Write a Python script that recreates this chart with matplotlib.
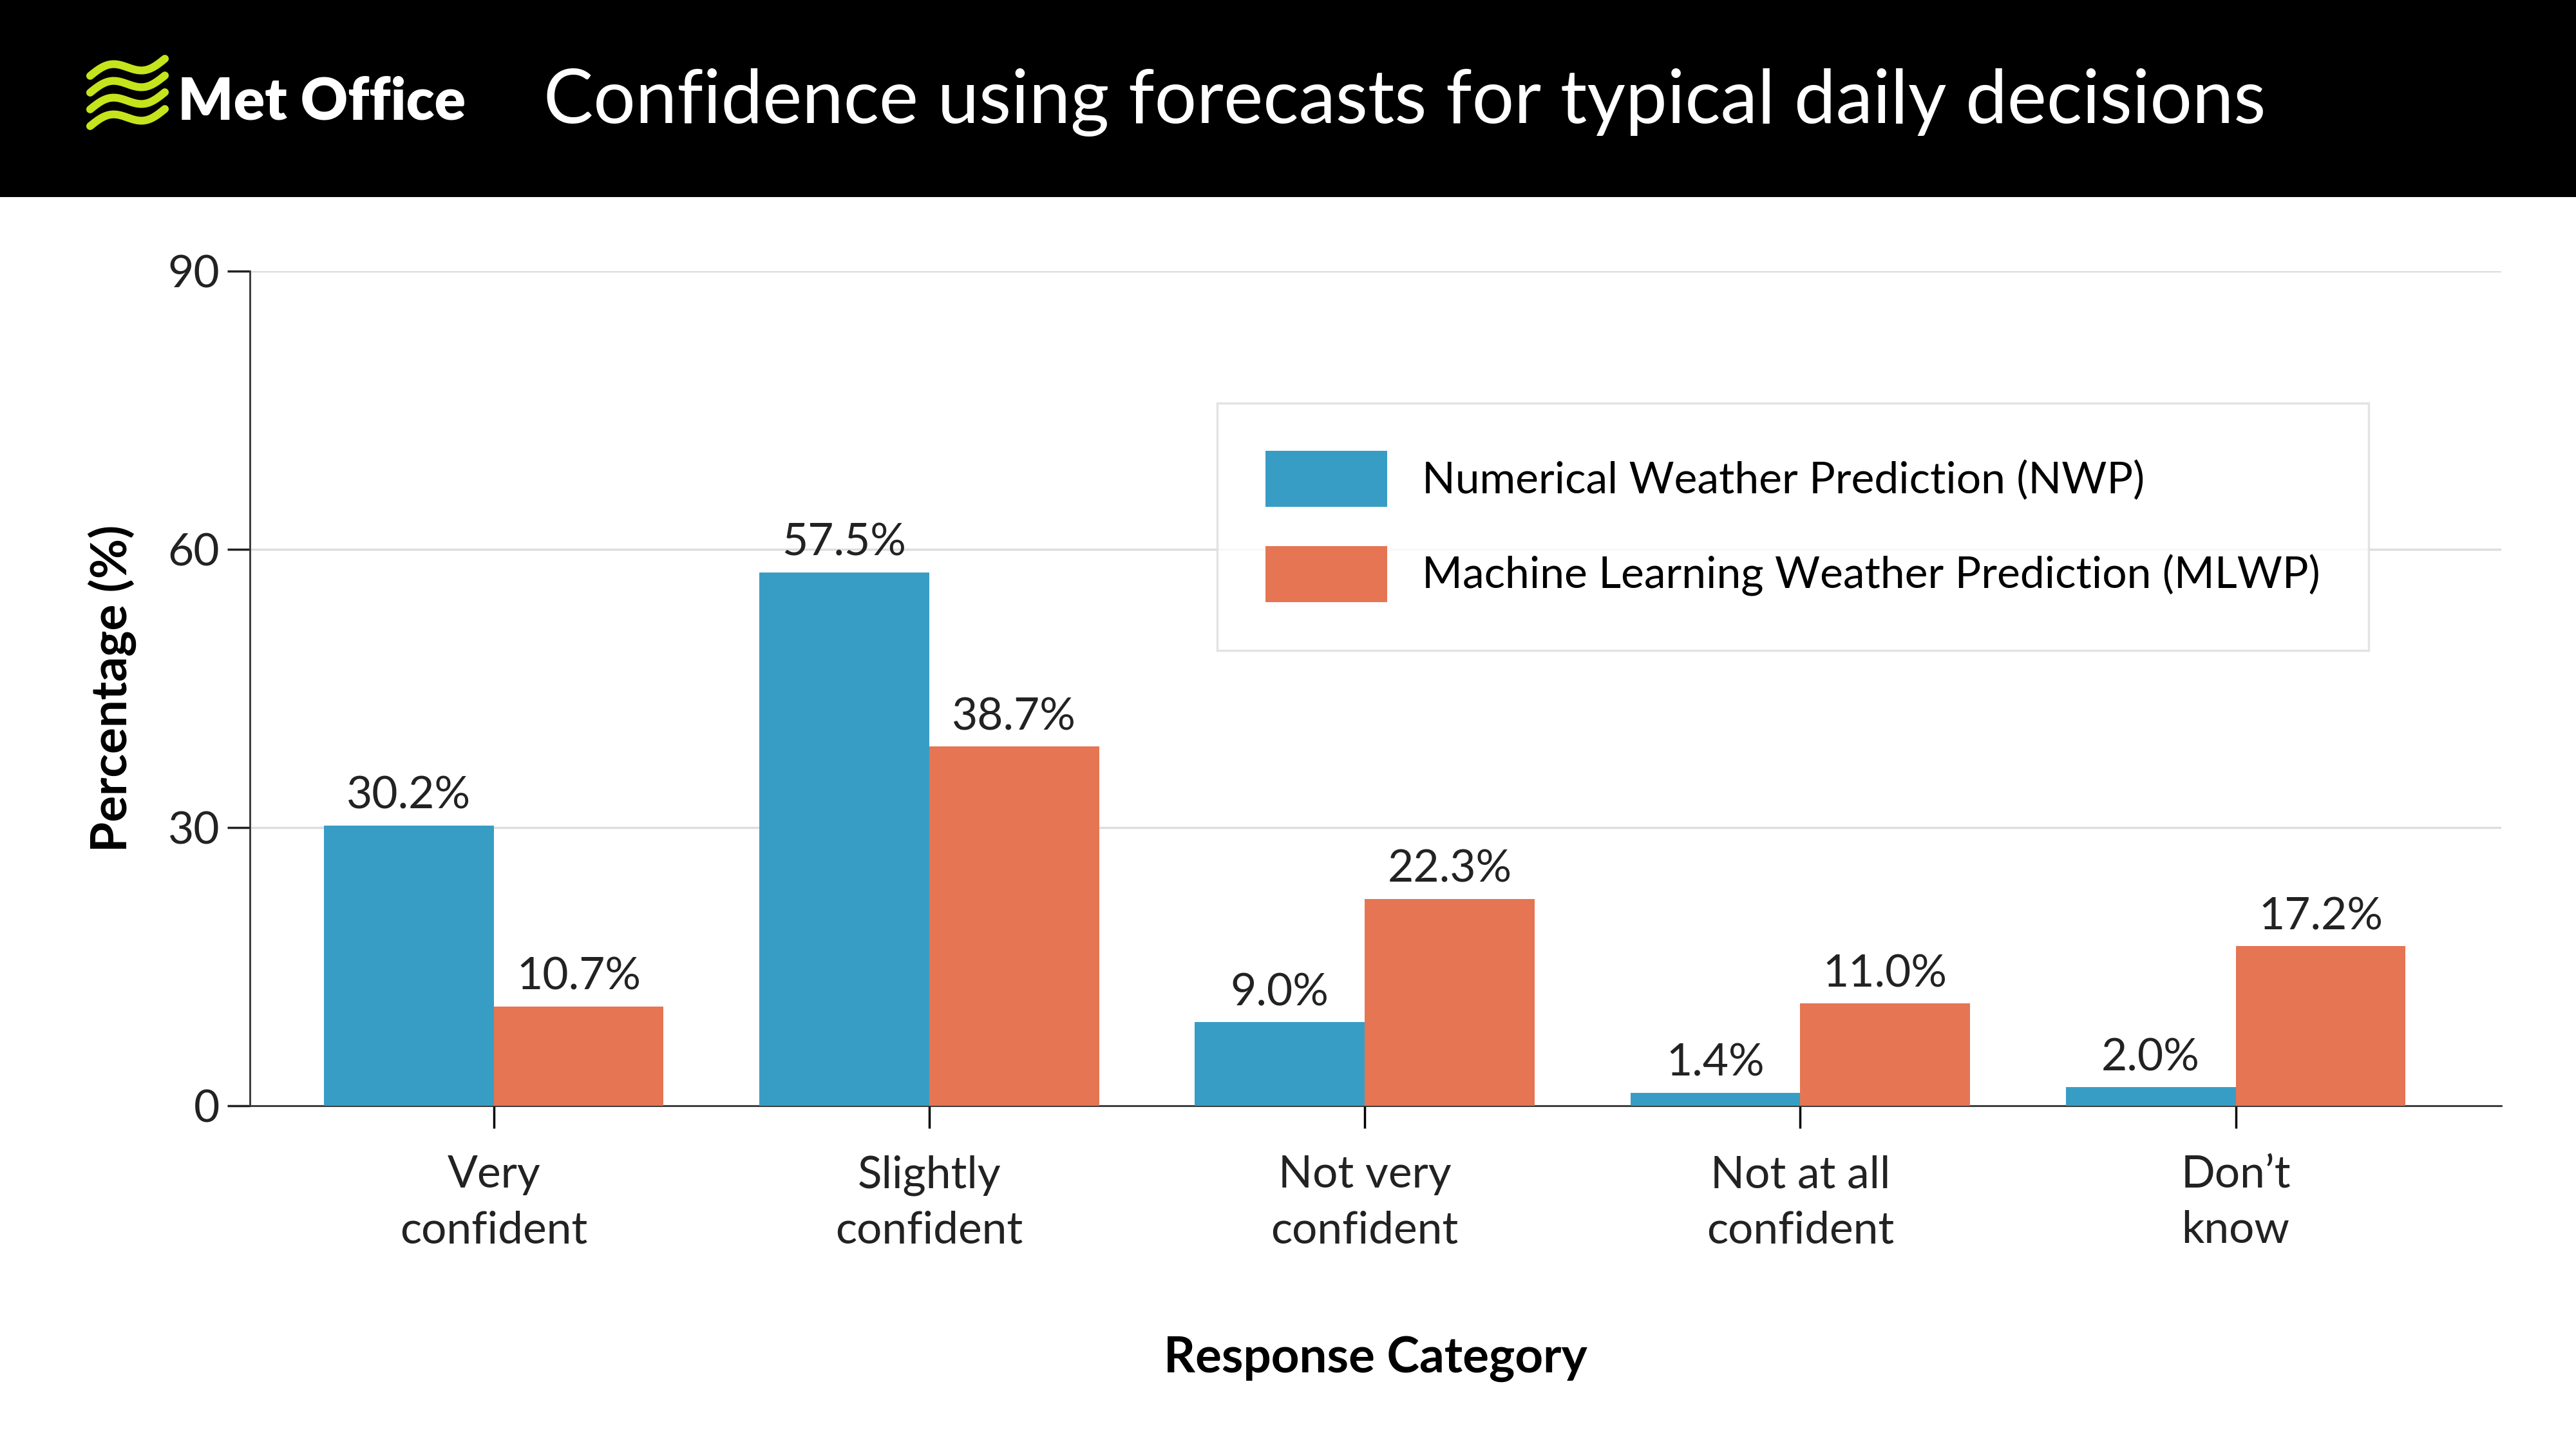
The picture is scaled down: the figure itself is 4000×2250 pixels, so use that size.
import matplotlib.pyplot as plt
import numpy as np

categories = ["Very\nconfident", "Slightly\nconfident", "Not very\nconfident", "Not at all\nconfident", "Don\u2019t\nknow"]
nwp = [30.2, 57.5, 9.0, 1.4, 2.0]
mlwp = [10.7, 38.7, 22.3, 11.0, 17.2]
series_names = ["Numerical Weather Prediction (NWP)", "Machine Learning Weather Prediction (MLWP)"]

BLUE = "#389dc4"
ORANGE = "#e57553"
plt.rcParams['font.family'] = ['Lato', 'DejaVu Sans']

fig = plt.figure(figsize=(16, 9), dpi=250)

# black header band
hdr = fig.add_axes([0, 0.864, 1, 0.136])
hdr.set_facecolor("black")
hdr.set_xlim(0, 1)
hdr.set_ylim(0, 1)
hdr.set_xticks([])
hdr.set_yticks([])
for s in hdr.spines.values():
    s.set_visible(False)
# wavy logo icon
t = np.linspace(0.035, 0.064, 60)
for k in range(4):
    yy = 0.36 + k * 0.085 + 0.035 * np.sin((t - 0.035) / 0.029 * 2 * np.pi) + (t - 0.035) * 3
    hdr.plot(t, yy, color="#c6e41b", lw=3.5, solid_capstyle="round")
hdr.text(0.069, 0.48, "Met Office", color="white", fontsize=26, fontweight="heavy",
         va="center", ha="left")
hdr.text(0.211, 0.48, "Confidence using forecasts for typical daily decisions", color="white",
         fontsize=33.3, va="center", ha="left")

ax = fig.add_axes([0.097, 0.237, 0.874, 0.576])
x = np.arange(len(categories))
w = 0.39
b1 = ax.bar(x - w / 2, nwp, w, color=BLUE, label=series_names[0], zorder=3)
b2 = ax.bar(x + w / 2, mlwp, w, color=ORANGE, label=series_names[1], zorder=3)
for bars in (b1, b2):
    ax.bar_label(bars, labels=[f"{v:.1f}%" for v in bars.datavalues], padding=4,
                 fontsize=20, color="#222222")

ax.set_xlim(-0.56, 4.61)
ax.set_ylim(0, 90)
ax.set_yticks([0, 30, 60, 90])
ax.grid(axis="y", color="#dddddd", lw=1, zorder=0)
ax.set_xticks(x)
ax.set_xticklabels(categories, fontsize=20, color="#222222", linespacing=1.45)
ax.tick_params(axis="y", labelsize=20, colors="#222222", length=10, width=1)
ax.tick_params(axis="x", length=10, width=1, pad=12)
for s in ["top", "right"]:
    ax.spines[s].set_visible(False)
ax.spines["left"].set_color("#333333")
ax.spines["bottom"].set_color("#333333")
ax.set_ylabel("Percentage (%)", fontsize=22, fontweight="bold", labelpad=14)
ax.set_xlabel("Response Category", fontsize=22, fontweight="bold", labelpad=38)

leg = ax.legend(loc="upper left", bbox_to_anchor=(0.42, 0.868), fontsize=19.5,
                frameon=True, fancybox=False, edgecolor="#dddddd", borderpad=1.1,
                handlelength=2.8, handleheight=1.6, labelspacing=0.9, handletextpad=0.8)
leg.get_frame().set_linewidth(1)

fig.savefig("out.png", dpi=250, facecolor="white")
